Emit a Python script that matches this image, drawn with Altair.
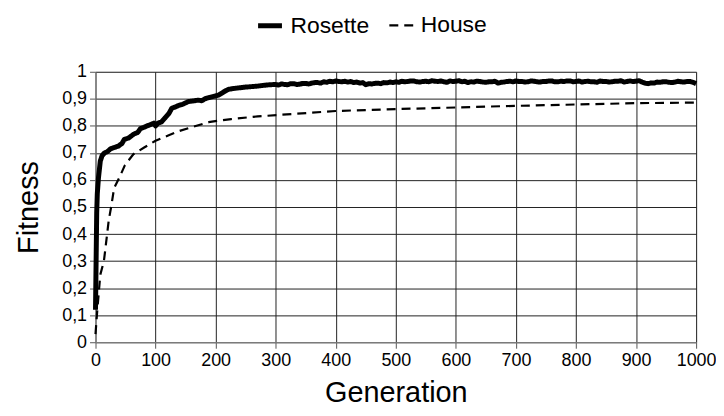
import altair as alt
import pandas as pd

FONT = "Liberation Sans"

rosette_gen = [0, 1, 2, 3, 5, 8, 11, 15, 20, 25, 31, 38, 44, 48, 55, 64, 70, 75, 81, 86, 92, 97, 100, 104,
               110, 116, 122, 127, 133, 138, 145, 155, 162, 171, 177, 182, 190, 199, 206, 213, 221, 229,
               237, 248, 259, 270, 281, 290]
rosette_fit = [0.12, 0.30, 0.48, 0.55, 0.61, 0.67, 0.69, 0.70, 0.705, 0.715, 0.72, 0.725, 0.735, 0.75, 0.755,
               0.77, 0.775, 0.79, 0.795, 0.80, 0.805, 0.81, 0.80, 0.81, 0.815, 0.83, 0.845, 0.865, 0.87, 0.875,
               0.88, 0.89, 0.892, 0.895, 0.893, 0.90, 0.905, 0.91, 0.915, 0.925, 0.935, 0.938, 0.94, 0.943,
               0.945, 0.947, 0.95, 0.952]
rosette_gen += list(range(300, 1001, 5))
rosette_fit += [0.953, 0.951, 0.955, 0.953, 0.952, 0.956, 0.956, 0.953, 0.954, 0.957,
                0.957, 0.955, 0.958, 0.960, 0.960, 0.958, 0.963, 0.961, 0.965, 0.963,
                0.966, 0.964, 0.963, 0.965, 0.962, 0.964, 0.960, 0.962, 0.958, 0.960,
                0.952, 0.956, 0.955, 0.957, 0.958, 0.956, 0.960, 0.959, 0.962, 0.960,
                0.963, 0.961, 0.965, 0.963, 0.964, 0.966, 0.966, 0.963, 0.962, 0.964,
                0.965, 0.963, 0.967, 0.965, 0.964, 0.966, 0.963, 0.961, 0.966, 0.964,
                0.965, 0.967, 0.963, 0.965, 0.960, 0.963, 0.962, 0.965, 0.964, 0.962,
                0.961, 0.963, 0.963, 0.965, 0.958, 0.961, 0.962, 0.964, 0.965, 0.963,
                0.966, 0.964, 0.964, 0.962, 0.963, 0.966, 0.965, 0.963, 0.962, 0.964,
                0.964, 0.966, 0.966, 0.963, 0.963, 0.965, 0.964, 0.966, 0.966, 0.963,
                0.964, 0.966, 0.962, 0.964, 0.965, 0.963, 0.963, 0.961, 0.966, 0.964,
                0.964, 0.962, 0.963, 0.965, 0.965, 0.967, 0.962, 0.964, 0.966, 0.964,
                0.965, 0.967, 0.962, 0.958, 0.956, 0.959, 0.958, 0.962, 0.961, 0.963,
                0.963, 0.961, 0.960, 0.962, 0.965, 0.963, 0.962, 0.964, 0.964, 0.961,
                0.956]

house_gen = [0, 3, 8, 14, 22, 26, 31, 40, 49, 63, 81, 100, 122, 138, 160, 191, 226, 270, 336, 400,
             500, 600, 700, 800, 900, 1000]
house_fit = [0.03, 0.12, 0.25, 0.30, 0.45, 0.50, 0.57, 0.61, 0.655, 0.695, 0.72, 0.745, 0.765, 0.78,
             0.795, 0.815, 0.825, 0.835, 0.845, 0.855, 0.862, 0.868, 0.874, 0.879, 0.884, 0.886]

series_names = ["Rosette", "House"]

rows = [{"gen": g, "fit": f, "series": "Rosette"} for g, f in zip(rosette_gen, rosette_fit)]
rows += [{"gen": g, "fit": f, "series": "House"} for g, f in zip(house_gen, house_fit)]
df = pd.DataFrame(rows)

chart = alt.Chart(df).mark_line(color="black", strokeJoin="round").encode(
    x=alt.X("gen:Q",
            scale=alt.Scale(domain=[0, 1000], nice=False),
            axis=alt.Axis(values=list(range(0, 1001, 100)), title="Generation", format="d",
                          labelFontSize=18, titleFontSize=29, titleFontWeight="normal",
                          labelFont=FONT, titleFont=FONT, labelColor="black", titleColor="black",
                          tickSize=6, tickColor="#555", domainColor="#888",
                          gridColor="#222", labelPadding=3, titlePadding=10, labelFlush=False)),
    y=alt.Y("fit:Q",
            scale=alt.Scale(domain=[0, 1], nice=False),
            axis=alt.Axis(values=[i / 10 for i in range(11)], title="Fitness",
                          labelExpr="replace(format(datum.value, '~g'), '.', ',')",
                          labelFontSize=18, titleFontSize=29, titleFontWeight="normal",
                          labelFont=FONT, titleFont=FONT, labelColor="black", titleColor="black",
                          tickSize=6, tickColor="#555", domainColor="#888",
                          gridColor="#222", labelPadding=3, titlePadding=18)),
    strokeDash=alt.StrokeDash("series:N",
                              scale=alt.Scale(domain=series_names, range=[[1, 0], [9, 6]]),
                              legend=alt.Legend(title=None, orient="none", direction="horizontal",
                                                legendX=161, legendY=-61,
                                                symbolType="stroke", symbolSize=576,
                                                symbolStrokeWidth=4, symbolStrokeColor="black",
                                                labelFont=FONT, labelFontSize=23, labelColor="black",
                                                labelOffset=6, columnPadding=15)),
    strokeWidth=alt.StrokeWidth("series:N",
                                scale=alt.Scale(domain=series_names, range=[5, 2.2]),
                                legend=None),
    order="gen:Q",
).properties(
    width=604, height=272,
    autosize=alt.AutoSizeParams(type="none"),
    padding={"left": 88, "top": 63, "right": 20, "bottom": 65},
).configure_view(stroke=None).configure(background="white")

chart.save("out.html", embed_options={"renderer": "svg", "actions": False})
